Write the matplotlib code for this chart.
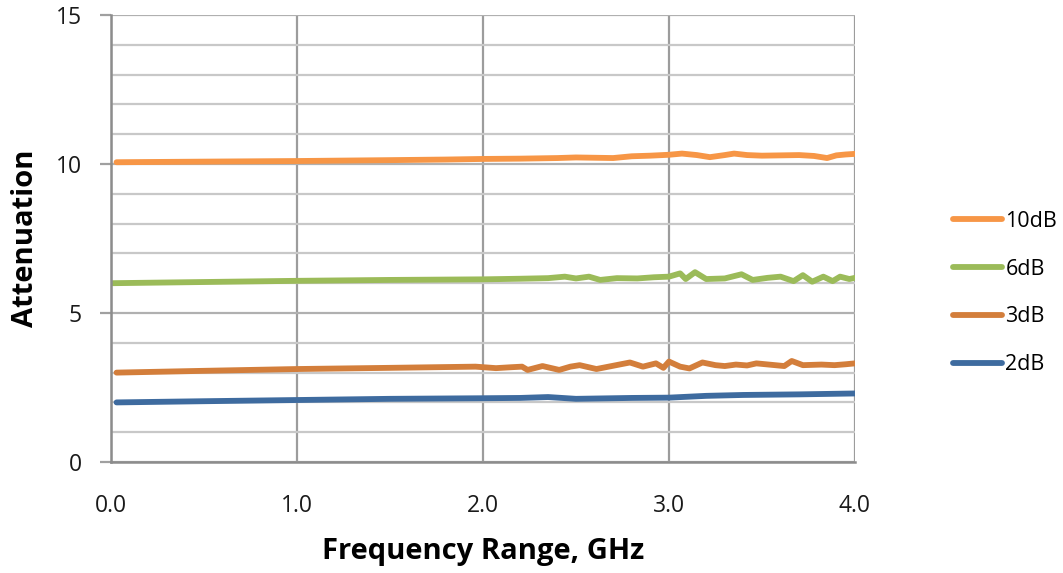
import numpy as np
import matplotlib
matplotlib.use('Agg')
import matplotlib.pyplot as plt
from matplotlib.ticker import MultipleLocator

plt.rcParams['font.family'] = ['Open Sans', 'DejaVu Sans']

# 数据
freq_10 = [0.03, 0.5, 1.0, 1.5, 1.8, 2.0, 2.2, 2.4, 2.5, 2.6, 2.7, 2.8, 2.9, 3.0,
           3.07, 3.15, 3.22, 3.3, 3.35, 3.42, 3.5, 3.6, 3.7, 3.78, 3.85, 3.9, 3.95, 4.0]
att_10 = [10.06, 10.08, 10.1, 10.13, 10.15, 10.17, 10.18, 10.2, 10.22, 10.21, 10.2, 10.26,
          10.28, 10.31, 10.35, 10.3, 10.23, 10.3, 10.35, 10.3, 10.28, 10.29, 10.3, 10.27,
          10.2, 10.29, 10.32, 10.34]

freq_6 = [0.0, 0.5, 1.0, 1.5, 2.0, 2.2, 2.35, 2.44, 2.5, 2.57, 2.63, 2.72, 2.83, 2.92, 3.0,
          3.06, 3.09, 3.14, 3.2, 3.3, 3.39, 3.45, 3.53, 3.6, 3.67, 3.72, 3.77, 3.83, 3.88,
          3.92, 3.97, 4.0]
att_6 = [6.0, 6.04, 6.08, 6.11, 6.13, 6.15, 6.17, 6.22, 6.16, 6.22, 6.11, 6.17, 6.16, 6.2,
         6.22, 6.33, 6.14, 6.37, 6.14, 6.16, 6.3, 6.11, 6.18, 6.22, 6.07, 6.27, 6.05, 6.22,
         6.07, 6.22, 6.14, 6.18]

freq_3 = [0.03, 0.5, 1.0, 1.5, 1.96, 2.07, 2.15, 2.21, 2.24, 2.32, 2.41, 2.47, 2.52, 2.61,
          2.7, 2.79, 2.86, 2.93, 2.97, 3.0, 3.06, 3.11, 3.18, 3.25, 3.3, 3.36, 3.42, 3.47,
          3.57, 3.62, 3.66, 3.72, 3.82, 3.89, 3.95, 4.0]
att_3 = [3.0, 3.06, 3.12, 3.16, 3.2, 3.15, 3.18, 3.2, 3.09, 3.22, 3.09, 3.2, 3.25, 3.12,
         3.23, 3.34, 3.2, 3.31, 3.16, 3.37, 3.2, 3.14, 3.34, 3.25, 3.22, 3.27, 3.24, 3.31,
         3.25, 3.22, 3.39, 3.25, 3.27, 3.25, 3.28, 3.31]

freq_2 = [0.03, 0.5, 1.0, 1.5, 2.0, 2.2, 2.35, 2.5, 2.8, 3.0, 3.1, 3.2, 3.4, 3.7, 4.0]
att_2 = [2.0, 2.04, 2.08, 2.12, 2.14, 2.15, 2.18, 2.12, 2.15, 2.16, 2.19, 2.22, 2.25, 2.27, 2.3]

series = [
    ('10dB', freq_10, att_10, '#F79646'),
    ('6dB', freq_6, att_6, '#9BBB59'),
    ('3dB', freq_3, att_3, '#D37E3B'),
    ('2dB', freq_2, att_2, '#3E6B9F'),
]

fig = plt.figure(figsize=(10.63, 5.73), dpi=100)
ax = fig.add_axes([0.1044, 0.1937, 0.6999, 0.7801])

# 网格
ax.set_xlim(0, 4)
ax.set_ylim(0, 15)
ax.xaxis.set_major_locator(MultipleLocator(1))
ax.yaxis.set_major_locator(MultipleLocator(5))
ax.yaxis.set_minor_locator(MultipleLocator(1))
ax.grid(which='major', axis='x', color='#9c9c9c', linewidth=1.6)
ax.grid(which='major', axis='y', color='#b0b0b0', linewidth=1.6)
ax.grid(which='minor', axis='y', color='#c8c8c8', linewidth=1.6)
ax.set_axisbelow(True)

for side in ['top', 'right']:
    ax.spines[side].set_visible(False)
for side in ['left', 'bottom']:
    ax.spines[side].set_color('#8c8c8c')
    ax.spines[side].set_linewidth(1.8)

lines = []
for label, f, a, c in series:
    ln, = ax.plot(f, a, color=c, linewidth=4.2, solid_capstyle='round',
                  solid_joinstyle='round', label=label)
    lines.append(ln)

ax.set_xticks([0, 1, 2, 3, 4])
ax.set_xticklabels(['0.0', '1.0', '2.0', '3.0', '4.0'])
ax.tick_params(axis='x', which='both', length=0, pad=23, labelsize=16.5, labelcolor='#1a1a1a')
ax.tick_params(axis='y', which='major', length=8, width=1.6, color='#a0a0a0',
               direction='out', pad=13, labelsize=16.5, labelcolor='#1a1a1a')
ax.tick_params(axis='y', which='minor', length=0)

ax.set_xlabel('Frequency Range, GHz', fontsize=21, fontweight='bold', va='center')
ax.xaxis.set_label_coords(0.5, (462 - 551) / 447)
ax.set_ylabel('Attenuation', fontsize=21, fontweight='bold', va='center')
ax.yaxis.set_label_coords((26 - 111) / 744, (462 - 238) / 447)

fig.legend(handles=lines, loc='center left', bbox_to_anchor=(944 / 1063, 1 - 293 / 573),
           frameon=False, fontsize=15.5, handlelength=2.3, handletextpad=0.15,
           labelspacing=1.25, borderaxespad=0)

plt.savefig('out.png', dpi=100, facecolor='white')
